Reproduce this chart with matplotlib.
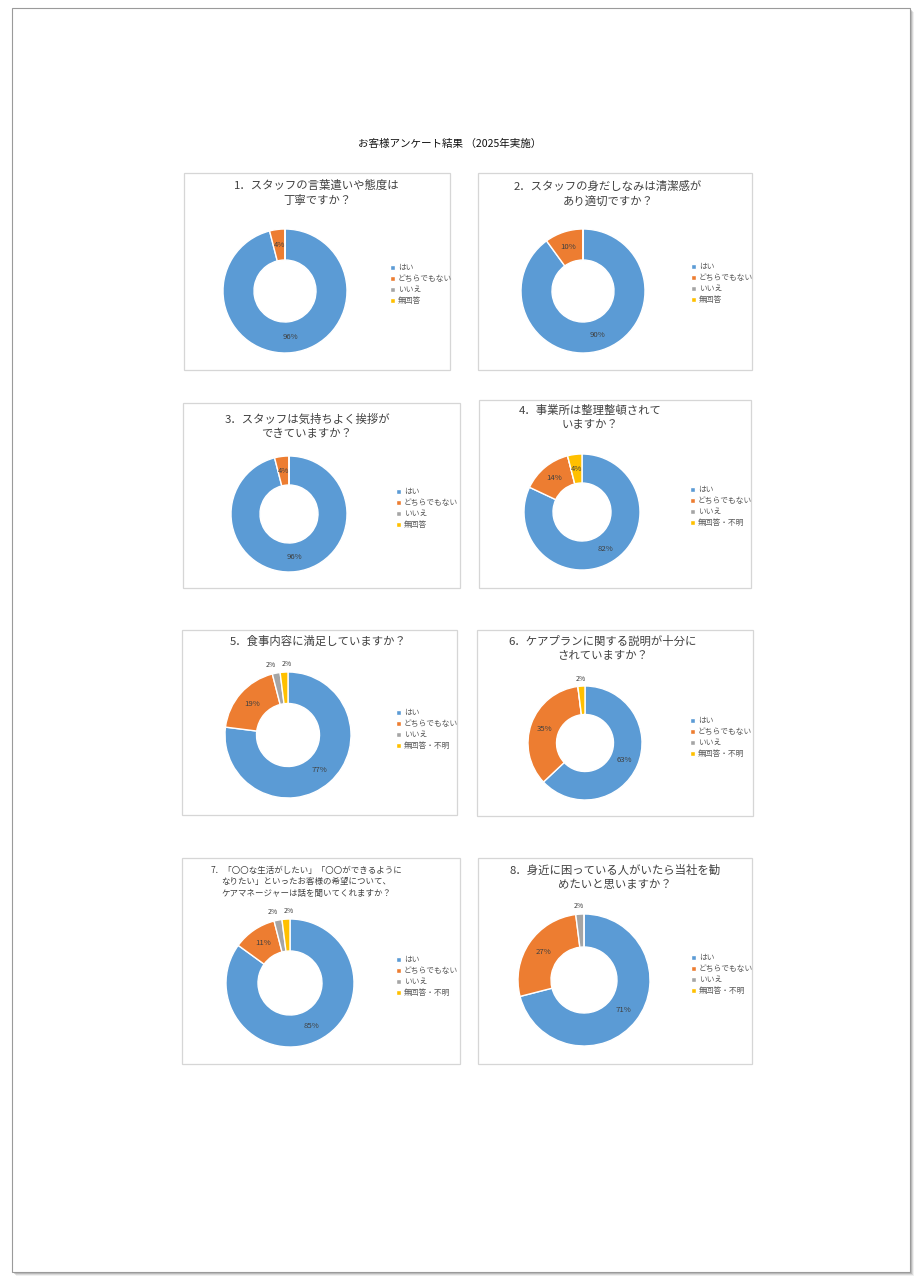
import matplotlib
matplotlib.use("Agg")
import matplotlib.pyplot as plt
from matplotlib.patches import Rectangle
import numpy as np

plt.rcParams["font.family"] = ["Noto Sans CJK JP", "DejaVu Sans"]

W, H = 922, 1288

# -----------------------------------------
# Data
# -----------------------------------------
main_title = "お客様アンケート結果 （2025年実施）"
answers_short = ["はい", "どちらでもない", "いいえ", "無回答"]
answers_long = ["はい", "どちらでもない", "いいえ", "無回答・不明"]
colors = ["#5B9BD5", "#ED7D31", "#A5A5A5", "#FFC000"]

questions = [
    "1．スタッフの言葉遣いや態度は\n丁寧ですか？",
    "2．スタッフの身だしなみは清潔感が\nあり適切ですか？",
    "3．スタッフは気持ちよく挨拶が\nできていますか？",
    "4．事業所は整理整頓されて\nいますか？",
    "5．食事内容に満足していますか？",
    "6．ケアプランに関する説明が十分に\nされていますか？",
    "7．「〇〇な生活がしたい」「〇〇ができるように\nなりたい」といったお客様の希望について、\nケアマネージャーは話を聞いてくれますか？",
    "8．身近に困っている人がいたら当社を勧\nめたいと思いますか？",
]
q1 = [96, 4, 0, 0]
q2 = [90, 10, 0, 0]
q3 = [96, 4, 0, 0]
q4 = [82, 14, 0, 4]
q5 = [77, 19, 2, 2]
q6 = [63, 35, 0, 2]
q7 = [85, 11, 2, 2]
q8 = [71, 27, 2, 0]
values = [q1, q2, q3, q4, q5, q6, q7, q8]
legends = [answers_short, answers_short, answers_short,
           answers_long, answers_long, answers_long, answers_long, answers_long]

# layout in pixels: box, donut centre/radius, title anchor, legend anchor
layout = [
    dict(box=(184, 173, 450, 370), donut=(285, 291, 62), title=(317, 180, 8.2, 1.45), leg=(390, 264)),
    dict(box=(478, 173, 752, 370), donut=(583, 291, 62), title=(608, 181, 8.2, 1.45), leg=(691, 263)),
    dict(box=(183, 403, 460, 588), donut=(289, 514, 58), title=(307, 414, 8.2, 1.45), leg=(396, 488)),
    dict(box=(479, 400, 751, 588), donut=(582, 512, 58), title=(590, 405, 8.2, 1.45), leg=(690, 486)),
    dict(box=(182, 630, 457, 815), donut=(288, 735, 63), title=(318, 636, 8.2, 1.45), leg=(396, 709)),
    dict(box=(477, 630, 753, 816), donut=(585, 743, 57), title=(603, 636, 8.2, 1.45), leg=(690, 717)),
    dict(box=(182, 858, 460, 1064), donut=(290, 983, 64), title=(306, 866, 6.1, 1.35), leg=(396, 956)),
    dict(box=(478, 858, 752, 1064), donut=(584, 980, 66), title=(615, 865, 8.2, 1.45), leg=(691, 954)),
]


def fx(x):
    return x / W


def fy(y):
    return 1 - y / H


fig = plt.figure(figsize=(W / 100, H / 100), dpi=100)
fig.patch.set_facecolor("white")

# page with shadow
for off, a in [(4, 0.10), (3, 0.18), (2, 0.28)]:
    fig.add_artist(Rectangle((fx(12 + off), fy(1272 + off)), (910 - 12) / W, (1272 - 8) / H,
                             transform=fig.transFigure, facecolor="#707070", alpha=a,
                             edgecolor="none", zorder=0))
fig.add_artist(Rectangle((fx(12), fy(1272)), (910 - 12) / W, (1272 - 8) / H,
                         transform=fig.transFigure, facecolor="white",
                         edgecolor="#9a9a9a", lw=0.8, zorder=1))

fig.text(fx(450), fy(144), main_title, ha="center", va="center", fontsize=7.6,
         color="#111111", zorder=5)

for i in range(8):
    lay = layout[i]
    x0, y0, x1, y1 = lay["box"]
    fig.add_artist(Rectangle((fx(x0), fy(y1)), (x1 - x0) / W, (y1 - y0) / H,
                             transform=fig.transFigure, facecolor="white",
                             edgecolor="#d6d6d6", lw=0.9, zorder=2))

    tx, ty, tfs, tls = lay["title"]
    fig.text(fx(tx), fy(ty), questions[i], ha="center", va="top", fontsize=tfs,
             color="#404040", linespacing=tls, zorder=5)

    cx, cy, r = lay["donut"]
    ax = fig.add_axes([fx(cx - r), fy(cy + r), 2 * r / W, 2 * r / H])
    ax.set_zorder(4)
    wedges, _ = ax.pie(values[i], colors=colors, startangle=90, counterclock=False,
                       radius=1.0, wedgeprops=dict(width=0.5, edgecolor="white", linewidth=1.0))
    ax.set_xlim(-1, 1)
    ax.set_ylim(-1, 1)
    ax.set_aspect("equal")
    ax.axis("off")

    # two small neighbouring slices -> spread their outside labels a little
    both_small = 0 < values[i][2] < 3 and 0 < values[i][3] < 3
    for k, (w, v) in enumerate(zip(wedges, values[i])):
        if v == 0:
            continue
        ang = np.deg2rad((w.theta1 + w.theta2) / 2)
        if v < 3:
            rr = 1.13
            dx = 0
            if both_small:
                dx = -2.5 if k == 2 else 2.5
            ax.annotate(f"{v}%", (rr * np.cos(ang), rr * np.sin(ang)),
                        xytext=(dx, 0), textcoords="offset points",
                        ha="center", va="center", fontsize=5.0, color="#404040",
                        annotation_clip=False)
        else:
            ax.text(0.75 * np.cos(ang), 0.75 * np.sin(ang), f"{v}%", ha="center",
                    va="center", fontsize=5.6, color="#404040")

    lx, ly = lay["leg"]
    ax.legend(wedges, legends[i], loc="upper left",
              bbox_to_anchor=(fx(lx), fy(ly)), bbox_transform=fig.transFigure,
              frameon=False, fontsize=5.6, handlelength=0.6, handleheight=0.6,
              handletextpad=0.4, labelspacing=0.4, borderpad=0, borderaxespad=0,
              labelcolor="#595959")

fig.savefig("out.png", dpi=100, facecolor="white")
